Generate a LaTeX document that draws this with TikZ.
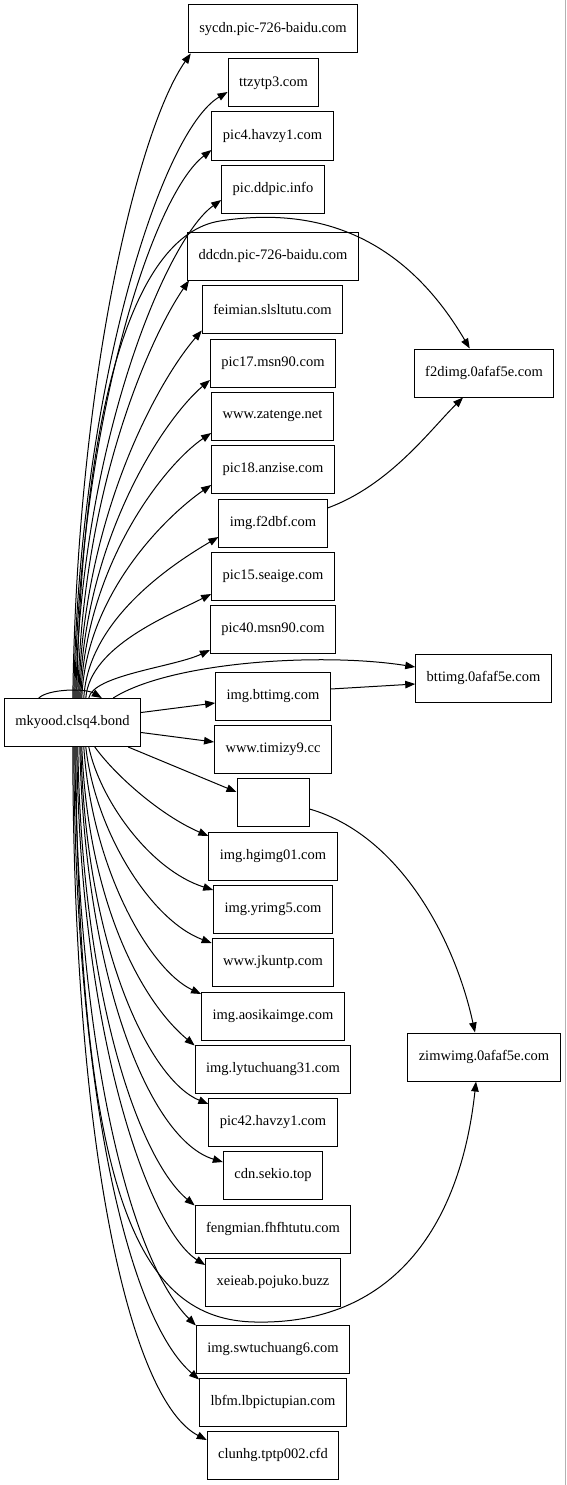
\documentclass[tikz,border=0pt]{standalone}
\usepackage{fontspec}
\setmainfont{Liberation Serif}
\usetikzlibrary{arrows.meta,calc}
\begin{document}
\begin{tikzpicture}[x=1pt,y=-1pt,
  box/.style={draw=black,line width=1pt,rectangle,inner xsep=11pt,minimum height=48pt,font=\fontsize{14.5}{16}\selectfont},
  e/.style={draw=black,line width=1pt,-{Triangle[length=10pt,width=7.5pt]}}]
\useasboundingbox (0,0) rectangle (567,1485);
\draw[gray!60,line width=1pt] (565.5,0) -- (565.5,1485);
% left
\node[box] (mk) at (72.5,722.5) {mkyood.clsq4.bond};
% middle column
\node[box] (sycdn) at (273,29) {sycdn.pic-726-baidu.com};
\node[box] (ttzy) at (273.5,83) {ttzytp3.com};
\node[box] (pic4) at (272.5,136) {pic4.havzy1.com};
\node[box] (ddpic) at (273,189) {pic.ddpic.info};
\node[box] (ddcdn) at (273,256) {ddcdn.pic-726-baidu.com};
\node[box] (feim) at (272.5,309) {feimian.slsltutu.com};
\node[box] (pic17) at (273,363) {pic17.msn90.com};
\node[box] (zat) at (272.5,416) {www.zatenge.net};
\node[box] (pic18) at (273,469) {pic18.anzise.com};
\node[box] (f2dbf) at (273,523) {img.f2dbf.com};
\node[box] (pic15) at (273,576) {pic15.seaige.com};
\node[box] (pic40) at (273,629) {pic40.msn90.com};
\node[box] (ibtt) at (273,696) {img.bttimg.com};
\node[box] (timi) at (273,749) {www.timizy9.cc};
\node[box,minimum width=72pt] (empty) at (273,802) {};
\node[box] (hg) at (273,856) {img.hgimg01.com};
\node[box] (yr) at (273,909) {img.yrimg5.com};
\node[box] (jk) at (273,962) {www.jkuntp.com};
\node[box] (aos) at (273,1016) {img.aosikaimge.com};
\node[box] (lyt) at (273,1069) {img.lytuchuang31.com};
\node[box] (pic42) at (273,1122) {pic42.havzy1.com};
\node[box] (sek) at (273,1175) {cdn.sekio.top};
\node[box] (feng) at (273,1229) {fengmian.fhfhtutu.com};
\node[box] (xei) at (273,1282) {xeieab.pojuko.buzz};
\node[box] (swt) at (273,1349) {img.swtuchuang6.com};
\node[box] (lbfm) at (273,1402) {lbfm.lbpictupian.com};
\node[box] (clun) at (273,1455) {clunhg.tptp002.cfd};
% right column
\node[box] (f2dimg) at (484,373) {f2dimg.0afaf5e.com};
\node[box] (bttimg) at (483.5,678) {bttimg.0afaf5e.com};
\node[box] (zimw) at (484,1057) {zimwimg.0afaf5e.com};
% self loop
\draw[e] ($(mk.north west)+(35,0)$) .. controls (48,689) and (85,688) .. ($(mk.north west)+(98,0)$);
% upper fan
\draw[e] ($(mk.north west)+(69,0)$) .. controls (77,376) and (139,127) .. ($(sycdn.south west)+(3,0)$);
\draw[e] ($(mk.north west)+(70,0)$) .. controls (78,395) and (160,132) .. ($(ttzy.west)+(0,9)$);
\draw[e] ($(mk.north west)+(71,0)$) .. controls (79,424) and (152,196) .. ($(pic4.west)+(0,14)$);
\draw[e] ($(mk.north west)+(72,0)$) .. controls (80,449) and (165,240) .. ($(ddpic.west)+(0,11)$);
\draw[e] ($(mk.north west)+(74,0)$) .. controls (82,489) and (150,337) .. ($(ddcdn.south west)+(2,0)$);
\draw[e] ($(mk.north west)+(75,0)$) .. controls (83,514) and (159,380) .. ($(feim.south west)+(0,-3)$);
\draw[e] ($(mk.north west)+(76,0)$) .. controls (84,539) and (164,419) .. ($(pic17.west)+(0,17)$);
\draw[e] ($(mk.north west)+(77,0)$) .. controls (85,566) and (164,465) .. ($(zat.west)+(0,17)$);
\draw[e] ($(mk.north west)+(78,0)$) .. controls (86,592) and (169,514) .. ($(pic18.west)+(0,16)$);
\draw[e] ($(mk.north west)+(80,0)$) .. controls (88,618) and (176,562) .. ($(f2dbf.west)+(0,14)$);
\draw[e] ($(mk.north west)+(82,0)$) .. controls (90,646) and (170,615) .. ($(pic15.west)+(0,18)$);
\draw[e] ($(mk.north west)+(85,0)$) .. controls (93,675) and (174,667) .. ($(pic40.west)+(0,21)$);
% long curve to f2dimg
\draw[e] ($(mk.north west)+(73,0)$) .. controls (81,420) and (130,235) .. (220,221)
   .. controls (310,207) and (400,230) .. ($(f2dimg.north west)+(56,0)$);
\draw[e] ($(f2dbf.east)+(0,-15)$) .. controls (390,485) and (430,430) .. ($(f2dimg.south)+(-21,0)$);
% to bttimg
\draw[e] ($(mk.north east)+(-28,0)$) .. controls (170,662) and (320,652) .. ($(bttimg.west)+(0,-11)$);
\draw[e] ($(ibtt.east)+(0,-7)$) -- ($(bttimg.west)+(0,6)$);
% right side straight
\draw[e] ($(mk.east)+(0,-10)$) -- ($(ibtt.west)+(0,7)$);
\draw[e] ($(mk.east)+(0,10)$) -- ($(timi.west)+(0,-7)$);
\draw[e] ($(mk.south east)+(-13,0)$) -- ($(empty.west)+(0,-10)$);
% lower fan
\draw[e] ($(mk.south west)+(91,0)$) .. controls (115,775) and (160,815) .. ($(hg.west)+(0,-20)$);
\draw[e] ($(mk.south west)+(85,0)$) .. controls (100,800) and (150,870) .. ($(yr.west)+(0,-19)$);
\draw[e] ($(mk.south west)+(82,0)$) .. controls (95,830) and (150,920) .. ($(jk.west)+(0,-19)$);
\draw[e] ($(mk.south west)+(80,0)$) .. controls (92,870) and (150,970) .. ($(aos.west)+(0,-22)$);
\draw[e] ($(mk.south west)+(78,0)$) .. controls (88,900) and (140,1000) .. ($(lyt.north west)+(0,1)$);
\draw[e] ($(mk.south west)+(77,0)$) .. controls (86,950) and (150,1080) .. ($(pic42.west)+(0,-18)$);
\draw[e] ($(mk.south west)+(76,0)$) .. controls (85,980) and (150,1140) .. ($(sek.west)+(0,-13)$);
\draw[e] ($(mk.south west)+(74,0)$) .. controls (82,1000) and (140,1160) .. ($(feng.north west)+(0,1)$);
\draw[e] ($(mk.south west)+(73,0)$) .. controls (80,1040) and (150,1230) .. ($(xei.west)+(0,-17)$);
\draw[e] ($(mk.south west)+(72,0)$) .. controls (78,1200) and (140,1320) .. (255,1322)
   .. controls (390,1325) and (460,1230) .. ($(zimw.south)+(-8,0)$);
\draw[e] ($(mk.south west)+(71,0)$) .. controls (77,1050) and (130,1260) .. ($(swt.north west)+(0,1)$);
\draw[e] ($(mk.south west)+(70,0)$) .. controls (75,1100) and (130,1320) .. ($(lbfm.north west)+(0,2)$);
\draw[e] ($(mk.south west)+(69,0)$) .. controls (73,1150) and (130,1400) .. ($(clun.west)+(0,-15)$);
% empty to zimwimg
\draw[e] ($(empty.east)+(0,7)$) .. controls (400,835) and (455,940) .. ($(zimw.north)+(-9,0)$);
\end{tikzpicture}
\end{document}
